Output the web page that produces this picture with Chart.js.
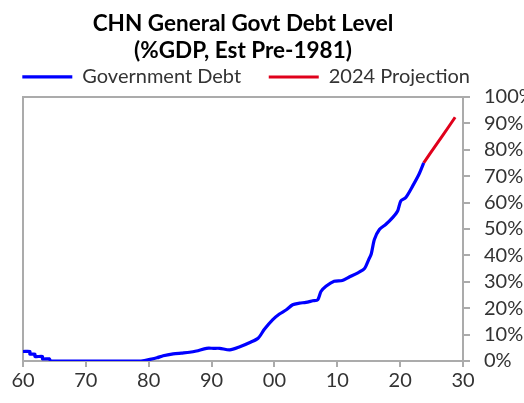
<!DOCTYPE html>
<html>
<head>
<meta charset="utf-8">
<script src="https://cdn.jsdelivr.net/npm/chart.js@4/dist/chart.umd.min.js"></script>
<style>
  html, body { margin: 0; padding: 0; background: #ffffff; }
  #wrap { width: 524px; height: 403px; }
</style>
</head>
<body>
<div id="wrap"><canvas id="c" width="524" height="403"></canvas></div>
<script>
// General government debt, % of GDP (estimated before 1981)
const debtYears = [
  1960.0, 1961.1, 1961.1, 1961.9, 1961.9, 1963.1, 1963.1, 1964.2, 1964.4,
  1970.0, 1978.4, 1979.3, 1980.2, 1981.3, 1982.3, 1983.9, 1985.2, 1986.5,
  1987.6, 1989.2, 1990.3, 1991.3, 1992.9, 1994.5, 1996.1, 1997.4, 1998.4,
  1999.7, 2000.8, 2001.9, 2002.9, 2004.0, 2005.0, 2006.1, 2006.9, 2007.4,
  2008.2, 2009.5, 2010.8, 2011.9, 2013.2, 2014.3, 2015.0, 2015.4, 2015.9,
  2016.7, 2017.7, 2018.8, 2019.6, 2020.1, 2020.9, 2022.0, 2023.0, 2023.75
];
const debtValues = [
  3.6, 3.6, 2.6, 2.6, 1.7, 1.7, 0.8, 0.8, 0.0,
  0.0, 0.0, 0.2, 0.6, 1.2, 2.0, 2.7, 3.0, 3.3,
  3.8, 4.8, 4.8, 4.8, 4.2, 5.4, 7.0, 8.6, 12.0,
  15.6, 17.8, 19.4, 21.3, 21.9, 22.2, 22.8, 23.2, 26.3,
  28.3, 30.2, 30.5, 31.8, 33.3, 34.9, 38.4, 40.5, 46.0,
  49.8, 51.7, 54.3, 56.8, 60.6, 61.9, 66.3, 70.7, 75.0
];
// Projection made in 2024
const projYears = [2023.75, 2024.75, 2025.75, 2026.75, 2027.75, 2028.75];
const projValues = [75.0, 78.5, 81.9, 85.3, 88.8, 92.3];

// Axis tick labels
const xTickLabels = ['60', '70', '80', '90', '00', '10', '20', '30'];
const xTickYears = [1960, 1970, 1980, 1990, 2000, 2010, 2020, 2030];
const yTickValues = [0, 10, 20, 30, 40, 50, 60, 70, 80, 90, 100];

const toPoints = (xs, ys) => xs.map((x, i) => ({ x: x, y: ys[i] }));

const AXIS_GREY = '#ababab';
const TEXT_GREY = '#333333';
const FONT = 'Lato, "Open Sans", sans-serif';

// Frame the plotting area on the left and top as well
const frame = {
  id: 'frame',
  beforeDatasetsDraw(chart) {
    const { ctx, chartArea: a } = chart;
    ctx.save();
    ctx.strokeStyle = AXIS_GREY;
    ctx.lineWidth = 2;
    ctx.beginPath();
    ctx.moveTo(a.left, a.bottom);
    ctx.lineTo(a.left, a.top);
    ctx.lineTo(a.right, a.top);
    ctx.stroke();
    ctx.restore();
  }
};

new Chart(document.getElementById('c'), {
  type: 'line',
  data: {
    datasets: [
      {
        label: 'Government Debt',
        data: toPoints(debtYears, debtValues),
        borderColor: '#0000ff',
        backgroundColor: '#0000ff',
        borderWidth: 3.2,
        pointRadius: 0,
        tension: 0.25
      },
      {
        label: '2024 Projection',
        data: toPoints(projYears, projValues),
        borderColor: '#e0001b',
        backgroundColor: '#e0001b',
        borderWidth: 3,
        pointRadius: 0,
        tension: 0
      }
    ]
  },
  plugins: [frame],
  options: {
    responsive: false,
    animation: false,
    layout: { padding: { left: 0, right: 0, top: 0, bottom: 0 } },
    plugins: {
      title: {
        display: true,
        text: ['CHN General Govt Debt Level', '(%GDP, Est Pre-1981)'],
        color: '#000000',
        font: { family: FONT, size: 22.5, weight: 'bold', lineHeight: 1.22 },
        padding: { top: 10, bottom: -9 },
        fullSize: false
      },
      legend: {
        display: true,
        fullSize: true,
        labels: {
          usePointStyle: true,
          pointStyle: 'line',
          pointStyleWidth: 50,
          color: TEXT_GREY,
          font: { family: FONT, size: 20 },
          padding: 11,
          generateLabels(chart) {
            const items = Chart.defaults.plugins.legend.labels.generateLabels(chart);
            // wider spacing around the entries
            items[0].text += '\u2002\u2004';
            items[1].text += '\u2003\u2002\u2004';
            return items;
          }
        }
      },
      tooltip: { enabled: false }
    },
    scales: {
      x: {
        type: 'linear',
        min: 1960,
        max: 2030,
        afterBuildTicks(scale) {
          scale.ticks = xTickYears.map(v => ({ value: v }));
        },
        ticks: {
          callback: (v) => xTickLabels[xTickYears.indexOf(v)],
          color: TEXT_GREY,
          font: { family: FONT, size: 20 },
          padding: 2,
          maxRotation: 0,
          autoSkip: false
        },
        grid: {
          drawOnChartArea: false,
          drawTicks: true,
          tickLength: 6,
          color: AXIS_GREY,
          lineWidth: 2
        },
        border: { display: true, color: AXIS_GREY, width: 2 },
        afterFit(scale) {
          scale.height = 42;
          scale.paddingLeft = 23;
        }
      },
      y: {
        position: 'right',
        min: 0,
        max: 100,
        afterBuildTicks(scale) {
          scale.ticks = yTickValues.map(v => ({ value: v }));
        },
        ticks: {
          callback: (v) => v + '%',
          color: TEXT_GREY,
          font: { family: FONT, size: 20 },
          padding: 14,
          crossAlign: 'near',
          autoSkip: false
        },
        grid: {
          drawOnChartArea: false,
          drawTicks: true,
          tickLength: 7,
          color: AXIS_GREY,
          lineWidth: 2
        },
        border: { display: true, color: AXIS_GREY, width: 2 },
        afterFit(scale) { scale.width = 61; }
      }
    }
  }
});
</script>
</body>
</html>
